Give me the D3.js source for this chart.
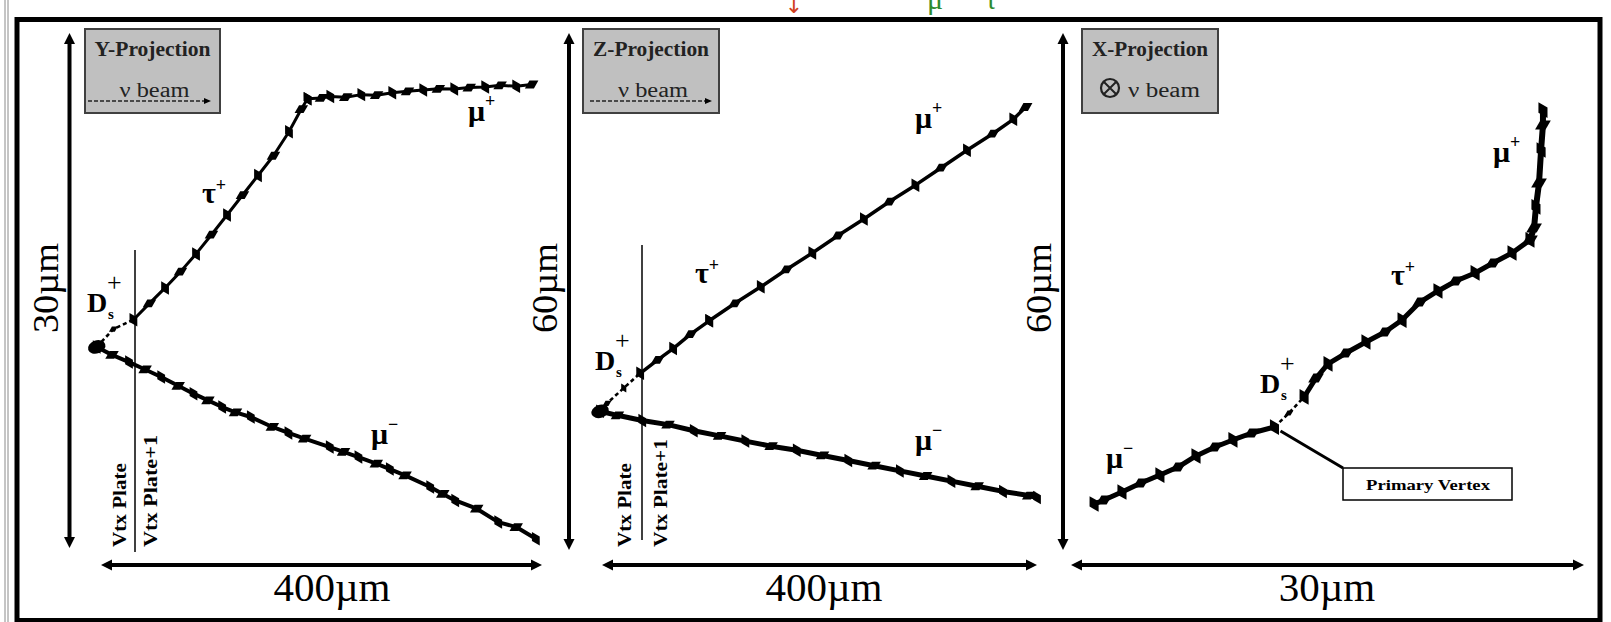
<!DOCTYPE html>
<html><head><meta charset="utf-8">
<script src="https://cdn.jsdelivr.net/npm/d3@7/dist/d3.min.js"></script>
<style>html,body{margin:0;padding:0;background:#fff;} svg{display:block;}</style>
</head><body>
<svg id="chart" width="1611" height="622"></svg>
<script>
// ---------------- data ----------------
const projectionTitles = ["Y-Projection", "Z-Projection", "X-Projection"];
const beamNote = "ν beam";
const xSpanUm = [400, 400, 30];
const ySpanUm = [30, 60, 60];
const xScaleLabels = ["400µm", "400µm", "30µm"];
const yScaleLabels = ["30µm", "60µm", "60µm"];
const plateLabels = ["Vtx Plate", "Vtx Plate+1"];
const vertexNote = "Primary Vertex";

// Y projection, points in µm [along beam, transverse]
const yDs = [[-3.9,11.71],[11.2,12.75],[29.4,13.30]];
const yTau = [[29.4,13.30],[44.0,14.25],[58.1,15.15],[72.1,16.10],[86.2,17.13],[100.2,18.25],[114.3,19.40],[128.3,20.55],[142.4,21.70],[156.4,22.85],[170.5,24.25],[181.7,25.57],[187.4,26.17]];
const yMuPlus = [[187.4,26.17],[200.0,26.22],[208.0,26.30],[222.0,26.26],[236.1,26.41],[250.0,26.38],[264.2,26.52],[278.0,26.60],[292.3,26.68],[306.0,26.75],[320.4,26.74],[334.0,26.82],[348.5,26.85],[362.0,26.95],[376.6,26.90],[390.6,27.00]];
const yMuMinus = [[-3.9,11.71],[10.0,11.25],[25.4,10.83],[40.0,10.40],[54.6,9.96],[70.0,9.45],[83.9,8.99],[97.0,8.60],[109.9,8.21],[122.0,7.90],[135.9,7.63],[155.4,7.05],[170.0,6.70],[184.7,6.37],[207.5,5.88],[220.0,5.60],[233.5,5.30],[249.7,4.91],[262.0,4.60],[275.8,4.23],[298.6,3.55],[310.0,3.15],[321.3,2.77],[340.8,2.29],[360.3,1.51],[376.6,1.22],[394.4,0.54]];

// Z projection
const zDs = [[-1.8,16.21],[4.6,17.02],[20.0,18.80],[35.1,20.51]];
const zTau = [[35.1,20.51],[51.2,22.07],[65.4,23.38],[81.5,25.05],[98.6,26.60]];
const zMuPlus = [[98.6,26.60],[122.3,28.63],[146.0,30.54],[169.7,32.56],[193.4,34.47],[217.1,36.50],[240.8,38.41],[264.5,40.44],[288.2,42.34],[311.9,44.37],[335.6,46.40],[359.3,48.31],[378.2,49.98],[389.6,51.41]];
const zMuMinus = [[-1.8,16.10],[14.2,15.63],[37.0,15.03],[60.7,14.55],[84.4,13.84],[108.1,13.24],[131.8,12.64],[155.5,12.05],[179.1,11.57],[202.8,10.97],[226.5,10.38],[250.2,9.78],[273.9,9.18],[297.6,8.59],[321.3,7.99],[345.0,7.40],[368.7,6.80],[392.4,6.32],[400.0,6.08]];

// X projection
const xDs = [[11.90,14.27],[12.75,15.90],[13.63,17.76]];
const xTau = [[13.63,17.76],[14.33,19.96],[15.03,21.59],[16.08,22.86],[17.25,24.14],[18.36,25.30],[19.36,26.69],[20.41,28.78],[21.46,30.06],[22.51,31.22],[23.63,32.15],[24.68,33.31],[25.79,34.47],[26.84,35.98]];
const xMuPlus = [[26.84,35.98],[27.08,37.37],[27.19,39.81],[27.37,42.59],[27.49,46.42],[27.60,49.32],[27.60,51.06]];
const xMuMinus = [[11.90,14.27],[10.58,13.58],[9.47,12.77],[8.42,11.95],[7.31,10.91],[6.26,9.63],[5.20,8.70],[4.09,7.78],[2.98,6.73],[1.93,5.80],[1.35,5.34]];

const panelTracks = [
  {ds:yDs, tau:yTau, muP:yMuPlus, muM:yMuMinus},
  {ds:zDs, tau:zTau, muP:zMuPlus, muM:zMuMinus},
  {ds:xDs, tau:xTau, muP:xMuPlus, muM:xMuMinus}
];

// ---------------- layout ----------------
const geom = [
  {xr:[101,542], yr:[548,33], ax:69.5, hy:565, yLabX:57.5, xLabX:332, box:[85,29,135,84], dash:[88,211],
   plate:{x:135, top:250, bot:552, l:126, r:157, lenL:84, lenR:112},
   lab:{ds:[87,312], tau:[202,203], muP:[468,121], muM:[371,444]}, blob:true, mk:70, lw:[3,3,4]},
  {xr:[602,1037], yr:[550,33], ax:569, hy:565, yLabX:557, xLabX:824, box:[583,29,136,84], dash:[590,712],
   plate:{x:642, top:245, bot:540, l:631, r:667, lenL:84, lenR:108},
   lab:{ds:[595,370], tau:[695,283], muP:[915,128], muM:[915,450]}, blob:true, mk:70, lw:[3.5,3.5,5]},
  {xr:[1071,1584], yr:[550,33], ax:1063, hy:565, yLabX:1051, xLabX:1327, box:[1082,29,136,84], dash:null,
   plate:null,
   lab:{ds:[1260,393], tau:[1391,285], muP:[1493,162], muM:[1106,468]}, blob:false, mk:95, lw:[5,6,5]}
];

const SERIF = "'Liberation Serif','Times New Roman',serif";
const svg = d3.select("#chart");

// outer thin lines and frame
[5, 8].forEach(x => svg.append("line").attr("x1",x).attr("x2",x).attr("y1",0).attr("y2",622)
  .attr("stroke","#8a8a8a").attr("stroke-width",1));
svg.append("rect").attr("x",17).attr("y",19.5).attr("width",1583).attr("height",601)
  .attr("fill","none").attr("stroke","#000").attr("stroke-width",5);

// clipped title fragments at the top (the reference is cut off here)
svg.append("text").attr("x",794).attr("y",13).attr("text-anchor","middle")
  .attr("font-family","DejaVu Sans").attr("font-size",22).attr("fill","#d04020").text("↓");
svg.append("text").attr("x",935).attr("y",9).attr("text-anchor","middle")
  .attr("font-family",SERIF).attr("font-size",30).attr("fill","#2e8b2e").text("μ");
svg.append("text").attr("x",991).attr("y",9).attr("text-anchor","middle")
  .attr("font-family",SERIF).attr("font-size",28).attr("fill","#2e8b2e").text("τ");

function arrowHead(g, x, y, dx, dy, len, hw) {
  const bx = x - dx*len, by = y - dy*len;
  const px = -dy*hw, py = dx*hw;
  g.append("path").attr("d",`M${x},${y}L${bx+px},${by+py}L${bx-px},${by-py}Z`).attr("fill","#000");
}

function particleLabel(g, x, y, base, sup, supDy) {
  const t = g.append("text").attr("x",x).attr("y",y).attr("font-family",SERIF)
    .attr("font-weight","bold").attr("font-size",30).attr("fill","#000");
  t.append("tspan").text(base);
  t.append("tspan").attr("font-size",18).attr("dy",supDy).text(sup);
}

geom.forEach((G, i) => {
  const g = svg.append("g");
  const xs = d3.scaleLinear().domain([0, xSpanUm[i]]).range(G.xr);
  const ys = d3.scaleLinear().domain([0, ySpanUm[i]]).range(G.yr);

  // vertical scale arrow
  const yTop = ys(ySpanUm[i]), yBot = ys(0);
  g.append("line").attr("x1",G.ax).attr("x2",G.ax).attr("y1",yTop+8).attr("y2",yBot-8)
    .attr("stroke","#000").attr("stroke-width",4);
  arrowHead(g, G.ax, yTop, 0, -1, 11, 5.5);
  arrowHead(g, G.ax, yBot, 0, 1, 11, 5.5);
  // horizontal scale arrow
  const xL = xs(0), xR = xs(xSpanUm[i]);
  g.append("line").attr("x1",xL+8).attr("x2",xR-8).attr("y1",G.hy).attr("y2",G.hy)
    .attr("stroke","#000").attr("stroke-width",4);
  arrowHead(g, xL, G.hy, -1, 0, 11, 5.5);
  arrowHead(g, xR, G.hy, 1, 0, 11, 5.5);

  // scale labels
  g.append("text").attr("transform",`translate(${G.yLabX},288) rotate(-90)`).attr("text-anchor","middle")
    .attr("font-family",SERIF).attr("font-size",36).attr("textLength",90).attr("lengthAdjust","spacingAndGlyphs")
    .attr("fill","#000").text(yScaleLabels[i]);
  g.append("text").attr("x",G.xLabX).attr("y",601).attr("text-anchor","middle")
    .attr("font-family",SERIF).attr("font-size",41).attr("fill","#000").text(xScaleLabels[i]);

  // projection box
  const [bx, by, bw, bh] = G.box;
  g.append("rect").attr("x",bx).attr("y",by).attr("width",bw).attr("height",bh)
    .attr("fill","#c0c0c0").attr("stroke","#404040").attr("stroke-width",2);
  g.append("text").attr("x",bx+bw/2).attr("y",by+27).attr("text-anchor","middle")
    .attr("font-family",SERIF).attr("font-size",21).attr("font-weight","bold")
    .attr("textLength",116).attr("lengthAdjust","spacingAndGlyphs").attr("fill","#222").text(projectionTitles[i]);
  if (G.dash) {
    g.append("text").attr("x",bx+bw/2+2).attr("y",by+68).attr("text-anchor","middle")
      .attr("font-family",SERIF).attr("font-size",20).attr("textLength",70).attr("lengthAdjust","spacingAndGlyphs")
      .attr("fill","#222").text(beamNote);
    g.append("line").attr("x1",G.dash[0]).attr("x2",G.dash[1]-5).attr("y1",by+72).attr("y2",by+72)
      .attr("stroke","#222").attr("stroke-width",1.6).attr("stroke-dasharray","4,2");
    arrowHead(g, G.dash[1], by+72, 1, 0, 7, 3);
  } else {
    const cx = bx+28, cy = by+59;
    g.append("circle").attr("cx",cx).attr("cy",cy).attr("r",9).attr("fill","none").attr("stroke","#222").attr("stroke-width",2.2);
    g.append("path").attr("d",`M${cx-6},${cy-6}L${cx+6},${cy+6}M${cx+6},${cy-6}L${cx-6},${cy+6}`).attr("stroke","#222").attr("stroke-width",2);
    g.append("text").attr("x",bx+46).attr("y",by+68).attr("font-family",SERIF).attr("font-size",20)
      .attr("textLength",72).attr("lengthAdjust","spacingAndGlyphs").attr("fill","#222").text(beamNote);
  }

  // vertex plate line + labels
  if (G.plate) {
    const P = G.plate;
    g.append("line").attr("x1",P.x).attr("x2",P.x).attr("y1",P.top).attr("y2",P.bot)
      .attr("stroke","#000").attr("stroke-width",1.5);
    g.append("text").attr("transform",`translate(${P.l},547) rotate(-90)`).attr("font-family",SERIF)
      .attr("font-size",19).attr("font-weight","bold").attr("textLength",P.lenL).attr("lengthAdjust","spacingAndGlyphs")
      .attr("fill","#000").text(plateLabels[0]);
    g.append("text").attr("transform",`translate(${P.r},547) rotate(-90)`).attr("font-family",SERIF)
      .attr("font-size",19).attr("font-weight","bold").attr("textLength",P.lenR).attr("lengthAdjust","spacingAndGlyphs")
      .attr("fill","#000").text(plateLabels[1]);
  }

  // tracks
  const T = panelTracks[i];
  const line = d3.line().x(d => xs(d[0])).y(d => ys(d[1]));
  const sym = d3.symbol().type(d3.symbolDiamond);
  [["ds",2.6,"4,3",30],["tau",G.lw[0],null,G.mk],["muP",G.lw[1],null,G.mk],["muM",G.lw[2],null,G.mk]].forEach(([k, w, dash, sz]) => {
    const p = g.append("path").datum(T[k]).attr("d",line).attr("fill","none").attr("stroke","#000")
      .attr("stroke-width",w).attr("stroke-linejoin","round");
    if (dash) p.attr("stroke-dasharray",dash);
    g.selectAll(null).data(T[k]).enter().append("path")
      .attr("transform",(d,j) => `translate(${xs(d[0])},${ys(d[1])}) rotate(${j%2?60:-30})`)
      .attr("d",sym.size(sz)()).attr("fill","#000");
  });
  if (G.blob) {
    const v = T.muM[0];
    g.append("ellipse").attr("cx",xs(v[0])).attr("cy",ys(v[1])).attr("rx",9).attr("ry",6.5)
      .attr("transform",`rotate(-20,${xs(v[0])},${ys(v[1])})`).attr("fill","#000");
  }

  // particle labels
  const L = G.lab;
  g.append("text").attr("x",L.ds[0]).attr("y",L.ds[1]).attr("font-family",SERIF).attr("font-weight","bold")
    .attr("font-size",28).attr("fill","#000").text("D");
  g.append("text").attr("x",L.ds[0]+21).attr("y",L.ds[1]+7).attr("font-family",SERIF).attr("font-weight","bold")
    .attr("font-size",15).attr("fill","#000").text("s");
  g.append("text").attr("x",L.ds[0]+20).attr("y",L.ds[1]-21).attr("font-family",SERIF)
    .attr("font-size",26).attr("fill","#000").text("+");
  particleLabel(g, L.tau[0], L.tau[1], "τ", "+", -12);
  particleLabel(g, L.muP[0], L.muP[1], "μ", "+", -14);
  particleLabel(g, L.muM[0], L.muM[1], "μ", "−", -14);

  // primary vertex callout (X projection)
  if (i === 2) {
    const v = T.muM[0];
    g.append("line").attr("x1",xs(v[0])+6).attr("y1",ys(v[1])+4).attr("x2",1343).attr("y2",468)
      .attr("stroke","#000").attr("stroke-width",3);
    g.append("rect").attr("x",1343).attr("y",468).attr("width",169).attr("height",32)
      .attr("fill","#fff").attr("stroke","#000").attr("stroke-width",1.5);
    g.append("text").attr("x",1428).attr("y",490).attr("text-anchor","middle").attr("font-family",SERIF)
      .attr("font-weight","bold").attr("font-size",14).attr("textLength",124).attr("lengthAdjust","spacingAndGlyphs")
      .attr("fill","#000").text(vertexNote);
  }
});
</script>
</body></html>
